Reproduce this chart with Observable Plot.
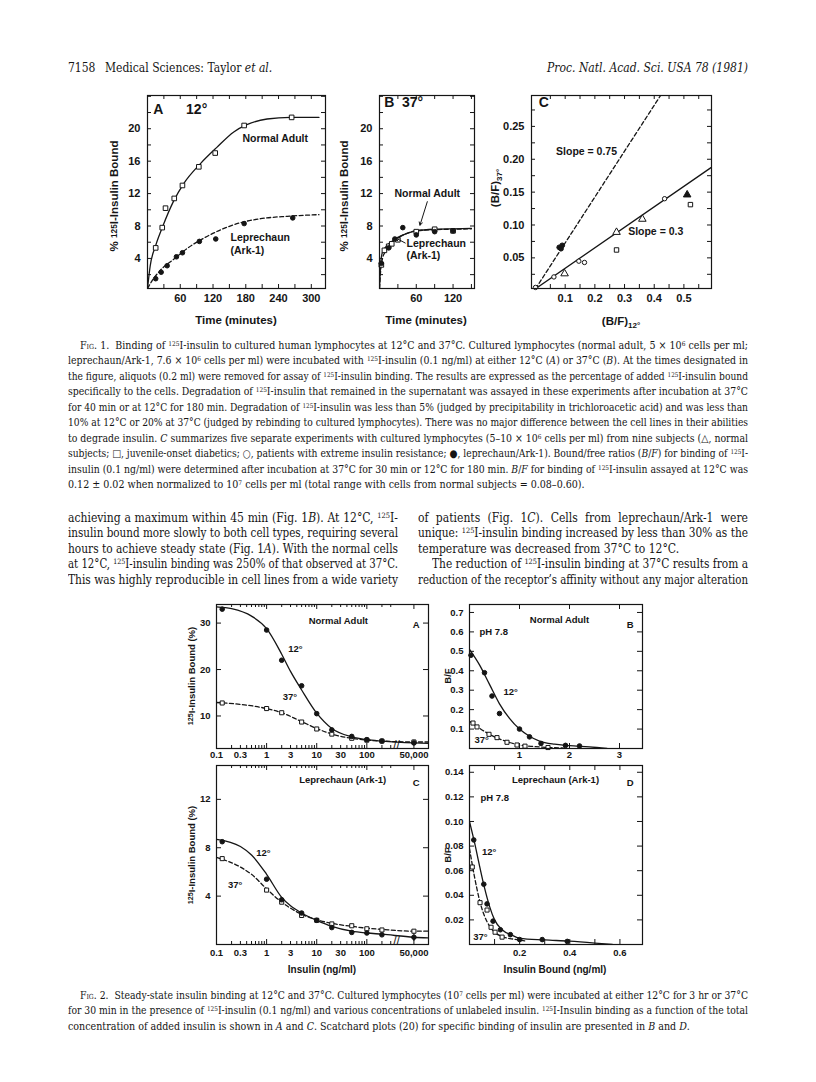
<!DOCTYPE html>
<html><head><meta charset="utf-8">
<script src="https://cdn.jsdelivr.net/npm/d3@7"></script>
<script src="https://cdn.jsdelivr.net/npm/@observablehq/plot@0.6"></script>
<style>
html,body{margin:0;padding:0;background:#fff}
#page{position:relative;width:816px;height:1082px;overflow:hidden;background:#fff;color:#151515}
sup{font-size:0.62em;vertical-align:0.5em;line-height:0}
sub{font-size:0.7em;vertical-align:-0.3em;line-height:0}
.tl{position:absolute;white-space:nowrap}
#page svg{position:absolute}
</style></head><body><div id="page"></div><script>
const FONT = "'Liberation Sans', Arial, Helvetica, sans-serif";
const SERIF = "'DejaVu Serif Condensed', 'DejaVu Serif', 'Liberation Serif', serif";
const INK = "#151515";
const page = document.getElementById("page");
const zip = (xs, ys) => xs.map((x, i) => ({x, y: ys[i]}));

// ================= FIG 1 DATA =================
// A: 12 degrees
const f1aNormalT = [15, 27, 33, 49, 64, 94, 124, 177, 264];
const f1aNormalY = [5.3, 7.8, 10.2, 11.4, 13.0, 15.3, 17.0, 20.4, 21.4];
const f1aLepT = [15, 25, 36, 53, 64, 95, 125, 177, 266];
const f1aLepY = [1.5, 2.3, 3.1, 4.2, 4.7, 6.1, 6.4, 8.3, 9.0];
const f1aNormalCurveT = [0, 5, 15, 27, 48, 66, 97, 127, 158, 182, 219, 262, 314];
const f1aNormalCurveY = [0.3, 3.1, 5.6, 7.8, 11.1, 13.2, 15.7, 17.7, 19.6, 20.5, 21.2, 21.4, 21.4];
const f1aLepCurveT = [0, 8, 23, 48, 72, 103, 133, 170, 207, 256, 314];
const f1aLepCurveY = [0.3, 1.2, 2.5, 3.9, 5.2, 6.5, 7.5, 8.4, 8.9, 9.2, 9.4];
// B: 37 degrees
const f1bNormalT = [3, 8, 15, 20, 30, 60, 90, 120];
const f1bNormalY = [3.2, 5.0, 5.5, 5.8, 6.3, 7.3, 7.6, 7.4];
const f1bLepT = [3, 15, 25, 38, 60, 90, 120];
const f1bLepY = [3.4, 5.3, 6.4, 7.8, 6.9, 7.3, 7.4];
const f1bNormalCurveT = [0, 2, 5, 10, 20, 30, 45, 60, 90, 120, 150];
const f1bNormalCurveY = [0.3, 3.5, 4.8, 5.4, 6.1, 6.6, 7.1, 7.4, 7.6, 7.65, 7.7];
const f1bLepCurveT = [0, 2, 5, 10, 20, 30, 45, 60, 90, 120, 150];
const f1bLepCurveY = [0.3, 2.6, 4.0, 4.9, 5.8, 6.5, 7.1, 7.4, 7.55, 7.6, 7.65];
// C: (B/F)12 vs (B/F)37
const f1cNormalX = [0.098, 0.273, 0.36];            // open triangles
const f1cNormalY = [0.026, 0.089, 0.109];
const f1cNormalFilledX = [0.511];                   // filled triangle
const f1cNormalFilledY = [0.146];
const f1cDiabeticX = [0.273, 0.522];                // open squares
const f1cDiabeticY = [0.062, 0.131];
const f1cResistantX = [0.0, 0.062, 0.146, 0.165, 0.435]; // open circles
const f1cResistantY = [0.005, 0.021, 0.045, 0.043, 0.140];
const f1cLepX = [0.080, 0.086, 0.090];              // filled circles
const f1cLepY = [0.066, 0.064, 0.069];
const f1cSlope075X = [0, 0.44], f1cSlope075Y = [0.003, 0.31];
const f1cSlope03X = [0, 0.6], f1cSlope03Y = [0.003, 0.19];

// ================= FIG 2 DATA =================
const f2Insulin = [0.13, 1, 2, 5, 10, 20, 50, 100, 200, 50000];
const f2aBound12 = [33.0, 28.5, 22.0, 16.5, 10.5, 7.0, 5.6, 4.9, 4.6, 4.2];
const f2aBound37 = [12.8, 11.6, 10.7, 8.7, 7.2, 6.1, 5.2, 4.8, 4.6, 4.4];
const f2aCurveX12 = [0.1, 0.2, 0.5, 1, 2, 3, 5, 10, 20, 50, 100, 200, 50000, 97000];
const f2aCurveY12 = [33.5, 33.1, 31.5, 28.8, 23.3, 19.6, 15.6, 10.6, 7.3, 5.5, 4.9, 4.6, 4.2, 4.1];
const f2aCurveX37 = [0.1, 0.3, 1, 2, 5, 10, 20, 50, 100, 200, 50000, 97000];
const f2aCurveY37 = [12.9, 12.5, 11.6, 10.7, 8.8, 7.3, 6.1, 5.2, 4.8, 4.6, 4.4, 4.4];
const f2cBound12 = [8.5, 5.4, 3.7, 2.6, 2.0, 1.4, 1.0, 0.95, 0.8, 0.6];
const f2cBound37 = [7.1, 4.5, 3.5, 2.4, 2.0, 1.7, 1.55, 1.3, 1.2, 1.1];
const f2cCurveX = [0.1, 0.3, 0.5, 1, 2, 3, 5, 10, 20, 50, 100, 200, 50000, 97000];
const f2cCurveY12 = [8.7, 8.1, 7.4, 5.8, 3.9, 3.2, 2.6, 2.0, 1.5, 1.1, 0.95, 0.85, 0.6, 0.55];
const f2cCurveY37 = [7.2, 6.4, 5.8, 4.6, 3.5, 3.0, 2.5, 2.05, 1.75, 1.5, 1.35, 1.25, 1.1, 1.1];
const f2aErr = [{x: 50000, y1: 3.6, y2: 4.8}];
const f2cErr = [{x: 50000, y1: 0.25, y2: 0.95}];
// B: Scatchard normal adult
const f2bBoundX12 = [0.03, 0.3, 0.45, 0.6, 1.0, 1.2, 1.43, 1.92, 2.2];
const f2bBF12 = [0.48, 0.39, 0.27, 0.18, 0.10, 0.06, 0.026, 0.016, 0.013];
const f2bBoundX37 = [0.07, 0.15, 0.39, 0.55, 0.75, 0.95, 1.11, 1.57];
const f2bBF37 = [0.131, 0.111, 0.073, 0.056, 0.032, 0.018, 0.012, 0.005];
const f2bCurveX12 = [0, 0.2, 0.4, 0.6, 0.8, 1.0, 1.2, 1.4, 1.7, 2.0, 2.4, 2.75];
const f2bCurveY12 = [0.51, 0.43, 0.33, 0.23, 0.155, 0.10, 0.063, 0.038, 0.022, 0.015, 0.008, 0.0];
const f2bCurveX37 = [0, 0.1, 0.3, 0.5, 0.75, 1.0, 1.3, 1.6, 1.9];
const f2bCurveY37 = [0.14, 0.122, 0.088, 0.06, 0.035, 0.018, 0.01, 0.005, 0.002];
// D: Scatchard leprechaun
const f2dBoundX12 = [0.017, 0.057, 0.07, 0.094, 0.123, 0.163, 0.2, 0.29, 0.39];
const f2dBF12 = [0.085, 0.049, 0.033, 0.019, 0.012, 0.008, 0.004, 0.004, 0.0025];
const f2dBoundX37 = [0.011, 0.042, 0.07, 0.086, 0.102, 0.13];
const f2dBF37 = [0.063, 0.034, 0.028, 0.014, 0.010, 0.006];
const f2dCurveX12 = [0, 0.02, 0.04, 0.06, 0.08, 0.1, 0.13, 0.17, 0.2, 0.3, 0.4, 0.5, 0.57];
const f2dCurveY12 = [0.100, 0.083, 0.064, 0.046, 0.031, 0.020, 0.012, 0.0075, 0.005, 0.0037, 0.0027, 0.0012, 0.0];
const f2dCurveX37 = [0, 0.02, 0.04, 0.06, 0.08, 0.1, 0.13, 0.18, 0.22];
const f2dCurveY37 = [0.078, 0.055, 0.036, 0.023, 0.015, 0.010, 0.0065, 0.0042, 0.003];

// tick labels
const f1TimeLabelsA = [60, 120, 180, 240, 300];
const f1TimeLabelsB = [60, 120];
const f1BoundLabels = [4, 8, 12, 16, 20];
const f1cXLabels = [0.1, 0.2, 0.3, 0.4, 0.5];
const f1cYLabels = [0.05, 0.10, 0.15, 0.20, 0.25];
const f2xTickValues = [0.1, 0.3, 1, 3, 10, 30, 100, 50000];
const f2xTickLabels = ["0.1", "0.3", "1", "3", "10", "30", "100", "50,000"];
const f2aYLabels = [10, 20, 30];
const f2cYLabels = [4, 8, 12];
const f2bXLabels = [1, 2, 3];
const f2bYLabels = [0.1, 0.2, 0.3, 0.4, 0.5, 0.6, 0.7];
const f2dXLabels = [0.2, 0.4, 0.6];
const f2dYLabels = [0.02, 0.04, 0.06, 0.08, 0.10, 0.12, 0.14];

// broken log axis: values beyond the break are drawn compressed
const f2BreakScale = 870 / 50000;
const pos = v => v >= 10000 ? v * f2BreakScale : v;
const f2BreakAt = 390;

const range = (a, b, s) => { const r = []; for (let v = a; v <= b + 1e-9; v += s) r.push(+v.toFixed(4)); return r; };
const logMinor = [];
for (const e of [0.1, 1, 10, 100]) for (let k = 2; k <= 9; k++) logMinor.push(+(k * e).toFixed(4));

// ================= helpers =================
function panel(o) {
  const mL = 44, mR = 12, mT = 12, mB = 28;
  const W = o.w, H = o.h;
  const xd = o.x.domain, yd = o.y.domain;
  const inX = v => v >= Math.min(...xd) && v <= Math.max(...xd);
  const inY = v => v >= Math.min(...yd) && v <= Math.max(...yd);
  const marks = [];
  for (const [vals, len] of (o.xTicks || [])) {
    const vs = vals.filter(inX);
    marks.push(Plot.tickX(vs, {x: d => d, insetTop: H - len, stroke: INK, strokeWidth: 1}));
    marks.push(Plot.tickX(vs, {x: d => d, insetBottom: H - len, stroke: INK, strokeWidth: 1}));
  }
  for (const [vals, len] of (o.yTicks || [])) {
    const vs = vals.filter(inY);
    marks.push(Plot.tickY(vs, {y: d => d, insetRight: W - len, stroke: INK, strokeWidth: 1}));
    marks.push(Plot.tickY(vs, {y: d => d, insetLeft: W - len, stroke: INK, strokeWidth: 1}));
  }
  if (o.xLab) marks.push(Plot.axisX(o.xLab.values, {anchor: "bottom", tickSize: 0, tickPadding: o.xPad ?? 5,
    tickFormat: o.xLab.fmt, fontWeight: "bold", fontSize: o.fs, label: null}));
  marks.push(Plot.axisY(o.yLab.values, {anchor: "left", tickSize: 0, tickPadding: o.yPad ?? 6,
    tickFormat: o.yLab.fmt, fontWeight: "bold", fontSize: o.fs, label: null}));
  marks.push(...o.marks);
  marks.push(Plot.frame({stroke: INK, strokeWidth: 1.2}));
  const svg = Plot.plot({
    width: W + mL + mR, height: H + mT + mB,
    marginLeft: mL, marginRight: mR, marginTop: mT, marginBottom: mB,
    x: o.xLab ? o.x : {...o.x, axis: null}, y: o.y,
    style: {fontFamily: FONT, fontSize: o.fs + "px", color: INK, background: "transparent", overflow: "visible"},
    marks
  });
  svg.style.left = (o.left - mL) + "px";
  svg.style.top = (o.top - mT) + "px";
  page.appendChild(svg);
}
const lab = (x, y, t, opt = {}) => Plot.text([{x, y, t}], {x: "x", y: "y", text: "t", fontWeight: "bold", ...opt});
const curve = (data, dashed, xf = d => d.x) => Plot.line(data, {x: xf, y: "y", curve: "monotone-x", stroke: INK,
  strokeWidth: 1.3, strokeDasharray: dashed ? "4,2.5" : null, clip: true});
const dots = (data, symbol, filled, r = 2.6, xf = d => d.x) => Plot.dot(data, {x: xf, y: "y", symbol, r,
  fill: filled ? INK : "white", stroke: INK, strokeWidth: 1});
// log-axis labels drawn as text (Plot's log tick format would hide 0.3, 3, 30, 50,000)
const logLabels = (pad) => Plot.text(f2xTickValues, {x: d => pos(d), frameAnchor: "bottom", lineAnchor: "top", dy: pad,
  text: (d, i) => f2xTickLabels[i], fontWeight: "bold", fontSize: 9.5});
const breakMark = () => Plot.text([f2BreakAt], {x: d => d, frameAnchor: "bottom", text: () => "//", fontSize: 12, fontWeight: "normal"});

const lines = [];
function textLine(html, x, yc, w, size, opt = {}) {
  const d = document.createElement("div");
  d.className = "tl";
  const lh = Math.round(size * 1.25);
  d.style.cssText = `left:${x}px;top:${yc - lh / 2}px;font-family:${opt.family || SERIF};font-size:${size}px;` +
    `line-height:${lh}px;color:${INK};transform-origin:0 50%;font-style:${opt.italic ? "italic" : "normal"};font-weight:${opt.weight || "normal"}`;
  d.innerHTML = html;
  page.appendChild(d);
  lines.push({d, x, w, justify: opt.justify !== false, align: opt.align || "left"});
}
function fitLines() {
  for (const L of lines) {
    L.d.style.transform = ""; L.d.style.wordSpacing = "";
    const nat = L.d.getBoundingClientRect().width;
    if (L.align === "right") { L.d.style.left = (L.x - nat) + "px"; continue; }
    if (nat > L.w) L.d.style.transform = `scaleX(${L.w / nat})`;
    else if (L.justify) {
      const n = (L.d.textContent.match(/ /g) || []).length;
      if (n) L.d.style.wordSpacing = ((L.w - nat) / n) + "px";
    }
  }
}
function vLabel(html, cx, cy, size) {
  const d = document.createElement("div");
  d.innerHTML = html;
  d.style.cssText = `position:absolute;left:${cx}px;top:${cy}px;transform:translate(-50%,-50%) rotate(-90deg);` +
    `white-space:nowrap;font-family:${FONT};font-size:${size}px;font-weight:bold;color:${INK};line-height:1`;
  page.appendChild(d);
}
function hLabel(html, cx, cy, size) {
  const d = document.createElement("div");
  d.innerHTML = html;
  d.style.cssText = `position:absolute;left:${cx}px;top:${cy}px;transform:translate(-50%,-50%);` +
    `white-space:nowrap;font-family:${FONT};font-size:${size}px;font-weight:bold;color:${INK};line-height:1`;
  page.appendChild(d);
}

// ================= FIG 1 =================
const F1L = 10.5; // annotation size
panel({
  left: 147, top: 95, w: 178, h: 193, fs: 11,
  x: {domain: [0, 326]}, y: {domain: [0.29, 24.1]},
  xTicks: [[range(30, 300, 30), 4]], yTicks: [[range(2, 24, 2), 4]],
  xLab: {values: f1TimeLabelsA, fmt: d => String(d)}, xPad: 6,
  yLab: {values: f1BoundLabels, fmt: d => String(d)}, yPad: 7,
  marks: [
    curve(zip(f1aNormalCurveT, f1aNormalCurveY), false),
    curve(zip(f1aLepCurveT, f1aLepCurveY), true),
    dots(zip(f1aNormalT, f1aNormalY), "square", false),
    dots(zip(f1aLepT, f1aLepY), "circle", true, 2.3),
    lab(20, 22.4, "A", {fontSize: 14}),
    lab(90, 22.4, "12°", {fontSize: 14}),
    lab(234, 18.8, "Normal Adult", {fontSize: F1L}),
    lab(152, 6.6, "Leprechaun", {fontSize: F1L, textAnchor: "start"}),
    lab(152, 5.0, "(Ark-1)", {fontSize: F1L, textAnchor: "start"})
  ]
});
panel({
  left: 379, top: 95, w: 95, h: 193, fs: 11,
  x: {domain: [0, 155]}, y: {domain: [0.29, 24.1]},
  xTicks: [[range(30, 150, 30), 4]], yTicks: [[range(2, 24, 2), 4]],
  xLab: {values: f1TimeLabelsB, fmt: d => String(d)}, xPad: 6,
  yLab: {values: f1BoundLabels, fmt: d => String(d)}, yPad: 7,
  marks: [
    curve(zip(f1bNormalCurveT, f1bNormalCurveY), false),
    curve(zip(f1bLepCurveT, f1bLepCurveY), true),
    dots(zip(f1bNormalT, f1bNormalY), "square", false),
    dots(zip(f1bLepT, f1bLepY), "circle", true, 2.3),
    lab(16, 23.2, "B", {fontSize: 14}),
    lab(54, 23.2, "37°", {fontSize: 14}),
    lab(78, 12.0, "Normal Adult", {fontSize: F1L}),
    lab(44, 5.8, "Leprechaun", {fontSize: F1L, textAnchor: "start"}),
    lab(44, 4.3, "(Ark-1)", {fontSize: F1L, textAnchor: "start"}),
    Plot.arrow([{x1: 78, y1: 11.0, x2: 66, y2: 8.1}], {x1: "x1", y1: "y1", x2: "x2", y2: "y2", stroke: INK, strokeWidth: 1, headLength: 5}),
    Plot.arrow([{x1: 42, y1: 5.9, x2: 27, y2: 6.5}], {x1: "x1", y1: "y1", x2: "x2", y2: "y2", stroke: INK, strokeWidth: 1, headLength: 5})
  ]
});
panel({
  left: 531, top: 95, w: 180, h: 193, fs: 11,
  x: {domain: [-0.0135, 0.593]}, y: {domain: [0.0034, 0.297]},
  xTicks: [[range(0.05, 0.55, 0.05), 4]], yTicks: [[range(0.025, 0.275, 0.025), 4]],
  xLab: {values: f1cXLabels, fmt: d => d.toFixed(1)}, xPad: 6,
  yLab: {values: f1cYLabels, fmt: d => d.toFixed(2)}, yPad: 7,
  marks: [
    curve(zip(f1cSlope075X, f1cSlope075Y), true),
    curve(zip(f1cSlope03X, f1cSlope03Y), false),
    dots(zip(f1cNormalX, f1cNormalY), "triangle", false, 2.8),
    dots(zip(f1cNormalFilledX, f1cNormalFilledY), "triangle", true, 2.8),
    dots(zip(f1cDiabeticX, f1cDiabeticY), "square", false, 2.5),
    dots(zip(f1cResistantX, f1cResistantY), "circle", false, 2.2),
    dots(zip(f1cLepX, f1cLepY), "circle", true, 2.4),
    lab(0.028, 0.287, "C", {fontSize: 14}),
    lab(0.172, 0.212, "Slope = 0.75", {fontSize: F1L}),
    lab(0.405, 0.0895, "Slope = 0.3", {fontSize: F1L})
  ]
});
// Fig 1 axis titles
vLabel('% <span style="font-size:0.72em;vertical-align:0.15em">125</span>I-Insulin Bound', 115, 196, 11.5);
vLabel('% <span style="font-size:0.72em;vertical-align:0.15em">125</span>I-Insulin Bound', 345, 196, 11.5);
vLabel('(B/F)<sub>37°</sub>', 496, 188, 11.5);
hLabel('Time (minutes)', 236, 321, 11.5);
hLabel('Time (minutes)', 426, 321, 11.5);
hLabel('(B/F)<sub>12°</sub>', 621, 322, 11.5);

// ================= FIG 2 =================
const f2xTicks = [[[0.1, 1, 10, 100, pos(50000)], 5], [logMinor.filter(v => v < 350), 3]];
panel({
  left: 216, top: 604, w: 212, h: 144, fs: 9.5,
  x: {type: "log", domain: [0.1, 1700]}, y: {domain: [3.0, 34.0]},
  xTicks: f2xTicks, yTicks: [[f2aYLabels, 5]],
  yLab: {values: f2aYLabels, fmt: d => String(d)}, yPad: 6,
  marks: [
    logLabels(3),
    curve(zip(f2aCurveX12, f2aCurveY12), false, d => pos(d.x)),
    curve(zip(f2aCurveX37, f2aCurveY37), true, d => pos(d.x)),
    Plot.ruleX(f2aErr, {x: d => pos(d.x), y1: "y1", y2: "y2", stroke: INK}),
    dots(zip(f2Insulin, f2aBound37), "square", false, 2.3, d => pos(d.x)),
    dots(zip(f2Insulin, f2aBound12), "circle", true, 2.3, d => pos(d.x)),
    breakMark(),
    lab(27, 30.5, "Normal Adult", {fontSize: 9.5}),
    Plot.text(["A"], {frameAnchor: "top-right", dx: -9, dy: 17, text: d => d, fontSize: 9.5, fontWeight: "bold"}),
    lab(2.7, 24.5, "12°", {fontSize: 9.5, textAnchor: "start"}),
    lab(2.1, 14.0, "37°", {fontSize: 9.5, textAnchor: "start"})
  ]
});
panel({
  left: 216, top: 765, w: 212, h: 179, fs: 9.5,
  x: {type: "log", domain: [0.1, 1700]}, y: {domain: [0, 14.8]},
  xTicks: f2xTicks, yTicks: [[f2cYLabels, 5]],
  yLab: {values: f2cYLabels, fmt: d => String(d)}, yPad: 6,
  marks: [
    logLabels(5),
    curve(zip(f2cCurveX, f2cCurveY12), false, d => pos(d.x)),
    curve(zip(f2cCurveX, f2cCurveY37), true, d => pos(d.x)),
    Plot.ruleX(f2cErr, {x: d => pos(d.x), y1: "y1", y2: "y2", stroke: INK}),
    dots(zip(f2Insulin, f2cBound37), "square", false, 2.3, d => pos(d.x)),
    dots(zip(f2Insulin, f2cBound12), "circle", true, 2.3, d => pos(d.x)),
    breakMark(),
    lab(33, 13.6, "Leprechaun (Ark-1)", {fontSize: 9.5}),
    Plot.text(["C"], {frameAnchor: "top-right", dx: -9, dy: 14, text: d => d, fontSize: 9.5, fontWeight: "bold"}),
    lab(0.62, 7.6, "12°", {fontSize: 9.5, textAnchor: "start"}),
    lab(0.17, 4.9, "37°", {fontSize: 9.5, textAnchor: "start"})
  ]
});
panel({
  left: 469, top: 604, w: 173, h: 144, fs: 9.5,
  x: {domain: [0, 3.46]}, y: {domain: [0, 0.741]},
  xTicks: [[f2bXLabels, 5]], yTicks: [[f2bYLabels, 5]],
  xLab: {values: f2bXLabels, fmt: d => String(d)}, xPad: 3,
  yLab: {values: f2bYLabels, fmt: d => d.toFixed(1)}, yPad: 6,
  marks: [
    curve(zip(f2bCurveX12, f2bCurveY12), false),
    curve(zip(f2bCurveX37, f2bCurveY37), true),
    dots(zip(f2bBoundX37, f2bBF37), "square", false, 2.3),
    dots(zip(f2bBoundX12, f2bBF12), "circle", true, 2.3),
    lab(1.8, 0.66, "Normal Adult", {fontSize: 9.5}),
    Plot.text(["B"], {frameAnchor: "top-right", dx: -9, dy: 17, text: d => d, fontSize: 9.5, fontWeight: "bold"}),
    lab(0.2, 0.6, "pH 7.8", {fontSize: 9.5, textAnchor: "start"}),
    lab(0.68, 0.29, "12°", {fontSize: 9.5, textAnchor: "start"}),
    lab(0.1, 0.045, "37°", {fontSize: 9.5, textAnchor: "start"})
  ]
});
panel({
  left: 469, top: 765, w: 173, h: 179, fs: 9.5,
  x: {domain: [0, 0.69]}, y: {domain: [0, 0.1455]},
  xTicks: [[range(0.1, 0.6, 0.1), 5]], yTicks: [[f2dYLabels, 5]],
  xLab: {values: f2dXLabels, fmt: d => d.toFixed(1)}, xPad: 5,
  yLab: {values: f2dYLabels, fmt: d => d.toFixed(2)}, yPad: 6,
  marks: [
    curve(zip(f2dCurveX12, f2dCurveY12), false),
    curve(zip(f2dCurveX37, f2dCurveY37), true),
    dots(zip(f2dBoundX37, f2dBF37), "square", false, 2.3),
    dots(zip(f2dBoundX12, f2dBF12), "circle", true, 2.3),
    lab(0.343, 0.134, "Leprechaun (Ark-1)", {fontSize: 9.5}),
    Plot.text(["D"], {frameAnchor: "top-right", dx: -9, dy: 14, text: d => d, fontSize: 9.5, fontWeight: "bold"}),
    lab(0.044, 0.119, "pH 7.8", {fontSize: 9.5, textAnchor: "start"}),
    lab(0.05, 0.075, "12°", {fontSize: 9.5, textAnchor: "start"}),
    lab(0.015, 0.006, "37°", {fontSize: 9.5, textAnchor: "start"})
  ]
});
vLabel('<sup style="font-size:0.75em;vertical-align:0.3em">125</sup>I-Insulin Bound (%)', 192, 676, 9.5);
vLabel('<sup style="font-size:0.75em;vertical-align:0.3em">125</sup>I-Insulin Bound (%)', 192, 855, 9.5);
vLabel('B/F', 448, 676, 9.5);
vLabel('B/F', 448, 855, 9.5);
hLabel('Insulin (ng/ml)', 322, 970, 10);
hLabel('Insulin Bound (ng/ml)', 555, 970, 10);

// ================= PAGE TEXT =================
textLine('7158', 68, 68, 40, 12, {justify: false});
textLine('Medical Sciences: Taylor <i>et al.</i>', 105, 68, 200, 12, {justify: false});
textLine('Proc. Natl. Acad. Sci. USA 78 (1981)', 748, 68, 260, 12, {justify: false, align: "right", italic: true});

const SC = '<span style="font-variant:small-caps">Fig.</span>';
const cap1 = [
  `${SC} 1.&nbsp; Binding of <sup>125</sup>I-insulin to cultured human lymphocytes at 12°C and 37°C. Cultured lymphocytes (normal adult, 5 × 10<sup>6</sup> cells per ml;`,
  `leprechaun/Ark-1, 7.6 × 10<sup>6</sup> cells per ml) were incubated with <sup>125</sup>I-insulin (0.1 ng/ml) at either 12°C (<i>A</i>) or 37°C (<i>B</i>). At the times designated in`,
  `the figure, aliquots (0.2 ml) were removed for assay of <sup>125</sup>I-insulin binding. The results are expressed as the percentage of added <sup>125</sup>I-insulin bound`,
  `specifically to the cells. Degradation of <sup>125</sup>I-insulin that remained in the supernatant was assayed in these experiments after incubation at 37°C`,
  `for 40 min or at 12°C for 180 min. Degradation of <sup>125</sup>I-insulin was less than 5% (judged by precipitability in trichloroacetic acid) and was less than`,
  `10% at 12°C or 20% at 37°C (judged by rebinding to cultured lymphocytes). There was no major difference between the cell lines in their abilities`,
  `to degrade insulin. <i>C</i> summarizes five separate experiments with cultured lymphocytes (5–10 × 10<sup>6</sup> cells per ml) from nine subjects (△, normal`,
  `subjects; □, juvenile-onset diabetics; ○, patients with extreme insulin resistance; ●, leprechaun/Ark-1). Bound/free ratios (<i>B</i>/<i>F</i>) for binding of <sup>125</sup>I-`,
  `insulin (0.1 ng/ml) were determined after incubation at 37°C for 30 min or 12°C for 180 min. <i>B</i>/<i>F</i> for binding of <sup>125</sup>I-insulin assayed at 12°C was`,
  `0.12 ± 0.02 when normalized to 10<sup>7</sup> cells per ml (total range with cells from normal subjects = 0.08–0.60).`
];
cap1.forEach((h, i) => textLine(h, i === 0 ? 80 : 68, 345 + i * 15.5, i === 0 ? 668 : 680, 10.6, {justify: i < cap1.length - 1}));

const bodyL = [
  `achieving a maximum within 45 min (Fig. 1<i>B</i>). At 12°C, <sup>125</sup>I-`,
  `insulin bound more slowly to both cell types, requiring several`,
  `hours to achieve steady state (Fig. 1<i>A</i>). With the normal cells`,
  `at 12°C, <sup>125</sup>I-insulin binding was 250% of that observed at 37°C.`,
  `This was highly reproducible in cell lines from a wide variety`
];
const bodyR = [
  `of patients (Fig. 1<i>C</i>). Cells from leprechaun/Ark-1 were`,
  `unique: <sup>125</sup>I-insulin binding increased by less than 30% as the`,
  `temperature was decreased from 37°C to 12°C.`,
  `The reduction of <sup>125</sup>I-insulin binding at 37°C results from a`,
  `reduction of the receptor’s affinity without any major alteration`
];
bodyL.forEach((h, i) => textLine(h, 68, 518 + i * 15.6, 330, 12));
bodyR.forEach((h, i) => textLine(h, i === 3 ? 432 : 418, 518 + i * 15.6, i === 3 ? 316 : 330, 12, {justify: i !== 2}));

const cap2 = [
  `${SC} 2.&nbsp; Steady-state insulin binding at 12°C and 37°C. Cultured lymphocytes (10<sup>7</sup> cells per ml) were incubated at either 12°C for 3 hr or 37°C`,
  `for 30 min in the presence of <sup>125</sup>I-insulin (0.1 ng/ml) and various concentrations of unlabeled insulin. <sup>125</sup>I-Insulin binding as a function of the total`,
  `concentration of added insulin is shown in <i>A</i> and <i>C</i>. Scatchard plots (20) for specific binding of insulin are presented in <i>B</i> and <i>D</i>.`
];
cap2.forEach((h, i) => textLine(h, i === 0 ? 80 : 68, 995 + i * 15.5, i === 0 ? 668 : 680, 10.6, {justify: i < cap2.length - 1}));

fitLines();
if (document.fonts && document.fonts.ready) document.fonts.ready.then(fitLines);
</script></body></html>
